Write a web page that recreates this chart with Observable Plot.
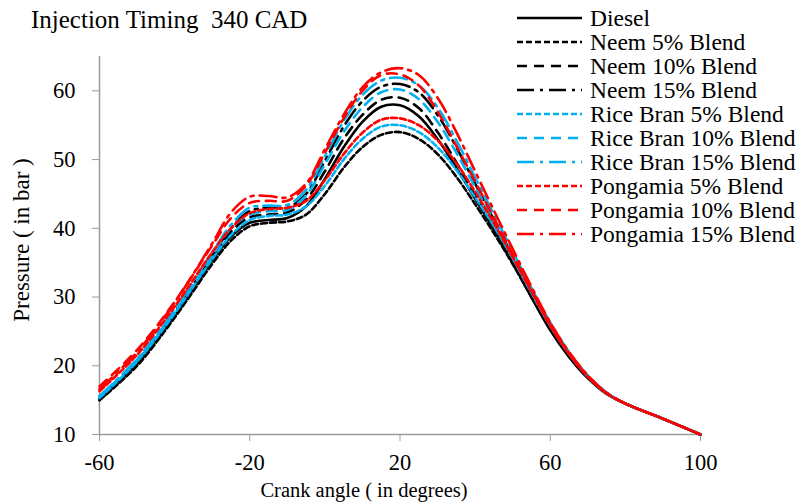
<!DOCTYPE html>
<html><head><meta charset="utf-8">
<script src="https://cdn.jsdelivr.net/npm/d3@7"></script>
<script src="https://cdn.jsdelivr.net/npm/@observablehq/plot@0.6"></script>
<style>
body{margin:0;background:#fff;}
#wrap{position:relative;width:806px;height:504px;font-family:"Liberation Serif","Times New Roman",serif;color:#000;overflow:hidden;}
.t{position:absolute;white-space:pre;}
#legend{position:absolute;left:515px;top:6px;}
.row{height:24px;line-height:24px;display:flex;align-items:center;font-size:23.5px;white-space:nowrap;}
.row svg{width:70px;height:12px;margin-right:5px;flex:none;}
</style></head>
<body><div id="wrap"></div>
<script>
const title = "Injection Timing  340 CAD";
const xLabel = "Crank angle ( in degrees)";
const yLabel = "Pressure ( in bar )";
const xTicks = [-60, -20, 20, 60, 100];
const yTicks = [10, 20, 30, 40, 50, 60];
const crankAngle = [-60,-50,-40,-30,-25,-20,-15,-10,-5,0,5,10,15,20,25,30,35,40,45,50,55,60,65,70,75,80,90,100];
const diesel = [15.0,20.3,27.3,35.3,38.8,40.8,41.2,41.5,43.2,47.2,51.8,55.5,57.7,57.9,56.3,53.0,48.8,44.3,39.8,35.0,30.0,25.2,21.3,18.2,15.9,14.5,12.3,10.0];
const neem5 = [15.0,20.0,27.0,34.8,38.2,40.3,40.8,41.0,42.0,45.0,48.8,51.8,53.6,54.0,53.0,50.8,47.5,43.5,39.3,34.8,30.0,25.3,21.4,18.3,16.0,14.5,12.3,10.0];
const neem10 = [15.2,20.5,27.5,35.6,39.5,41.6,42.0,42.3,44.2,48.3,53.0,56.5,58.7,59.0,57.5,54.0,49.6,44.8,40.0,35.0,30.0,25.3,21.4,18.3,16.0,14.5,12.3,10.0];
const neem15 = [15.2,20.6,27.7,36.0,40.0,42.5,43.0,43.0,45.0,49.8,54.8,58.5,60.6,61.0,59.8,56.5,51.8,46.5,41.2,36.0,30.8,25.8,21.7,18.4,16.0,14.5,12.3,10.0];
const riceBran5 = [15.3,20.6,27.6,35.5,39.0,41.2,41.8,42.0,43.2,46.2,50.0,53.0,54.8,55.0,54.0,51.8,48.5,44.5,40.3,35.6,30.6,25.8,21.7,18.4,16.0,14.5,12.3,10.0];
const riceBran10 = [15.5,20.9,27.9,36.0,40.0,42.0,42.5,42.7,44.8,49.3,54.0,57.6,59.8,60.2,58.8,55.5,51.0,46.0,41.0,35.8,30.7,25.8,21.8,18.5,16.0,14.5,12.3,10.0];
const riceBran15 = [15.6,21.0,28.2,36.5,40.5,43.0,43.3,43.4,45.6,50.5,55.6,59.4,61.5,61.9,60.8,57.6,52.8,47.4,42.0,36.6,31.3,26.3,22.0,18.6,16.1,14.5,12.3,10.0];
const pongamia5 = [16.3,21.6,28.6,36.5,40.0,42.2,42.8,43.0,44.0,47.0,50.8,53.9,55.8,56.0,55.0,52.8,49.5,45.3,40.8,35.8,30.8,25.8,21.7,18.4,16.0,14.5,12.3,10.0];
const pongamia10 = [17.0,22.3,29.3,37.5,41.5,43.7,44.0,44.0,46.2,51.0,56.0,60.0,62.3,62.4,60.8,57.0,52.0,46.8,41.5,36.2,31.0,26.0,21.8,18.5,16.0,14.5,12.3,10.0];
const pongamia15 = [16.6,22.0,29.2,37.8,42.3,44.6,44.7,44.5,46.5,51.5,56.5,60.5,62.7,63.3,62.3,59.0,54.0,48.3,42.6,37.0,31.5,26.3,22.0,18.6,16.1,14.5,12.3,10.0];
const seriesNames = ["Diesel","Neem 5% Blend","Neem 10% Blend","Neem 15% Blend","Rice Bran 5% Blend","Rice Bran 10% Blend","Rice Bran 15% Blend","Pongamia 5% Blend","Pongamia 10% Blend","Pongamia 15% Blend"];
const seriesValues = [diesel, neem5, neem10, neem15, riceBran5, riceBran10, riceBran15, pongamia5, pongamia10, pongamia15];

const colors = ["#000000","#000000","#000000","#000000","#00B0F0","#00B0F0","#00B0F0","#FF0000","#FF0000","#FF0000"];
const dashes = ["none","6,3","10,7","17,6,3,6","6,3","10,7","17,6,3,6","6,3","10,7","17,6,3,6"];

const lineMarks = seriesNames.map((name, i) => {
  const data = crankAngle.map((x, j) => ({x, y: seriesValues[i][j], series: name}));
  return Plot.line(data, {x: "x", y: "y", stroke: colors[i], strokeWidth: 2.6, strokeDasharray: dashes[i], curve: "catmull-rom"});
});

const chart = Plot.plot({
  width: 806, height: 504,
  marginLeft: 99, marginRight: 106, marginTop: 56, marginBottom: 70,
  style: {fontFamily: "'Liberation Serif', 'Times New Roman', serif", fontSize: "22.5px", background: "transparent", color: "#000"},
  x: {domain: [-60, 100]},
  y: {domain: [10, 65]},
  marks: [
    Plot.ruleY([10], {stroke: "#9a9a9a", strokeWidth: 1.5}),
    Plot.ruleX([-60], {stroke: "#9a9a9a", strokeWidth: 1.5}),
    Plot.axisX({ticks: xTicks, tickSize: 7, tickPadding: 13, label: null, stroke: "#9a9a9a", fill: "#000", tickFormat: d => String(d)}),
    Plot.axisY({ticks: yTicks, tickSize: 7, tickPadding: 17, label: null, stroke: "#9a9a9a", fill: "#000", tickFormat: d => String(d)}),
    ...lineMarks
  ]
});
const wrap = document.getElementById("wrap");
chart.style.position = "absolute"; chart.style.left = "0"; chart.style.top = "0";
wrap.appendChild(chart);

function addText(txt, css) {
  const d = document.createElement("div"); d.className = "t"; d.textContent = txt;
  Object.assign(d.style, css); wrap.appendChild(d); return d;
}
addText(title, {left: "31px", top: "5px", fontSize: "25px", lineHeight: "30px"});
addText(xLabel, {left: "364px", top: "478px", fontSize: "20.5px", lineHeight: "24px", transform: "translateX(-50%)"});
addText(yLabel, {left: "22px", top: "240px", fontSize: "23px", lineHeight: "26px", transform: "translate(-50%,-50%) rotate(-90deg)"});

const legend = document.createElement("div"); legend.id = "legend";
seriesNames.forEach((name, i) => {
  const row = document.createElement("div"); row.className = "row";
  const ns = "http://www.w3.org/2000/svg";
  const s = document.createElementNS(ns, "svg");
  const l = document.createElementNS(ns, "line");
  l.setAttribute("x1", 2); l.setAttribute("x2", 67); l.setAttribute("y1", 6); l.setAttribute("y2", 6);
  l.setAttribute("stroke", colors[i]); l.setAttribute("stroke-width", 2.6);
  if (dashes[i] !== "none") l.setAttribute("stroke-dasharray", dashes[i]);
  s.appendChild(l); row.appendChild(s);
  const t = document.createElement("span"); t.textContent = name; row.appendChild(t);
  legend.appendChild(row);
});
wrap.appendChild(legend);
</script></body></html>
